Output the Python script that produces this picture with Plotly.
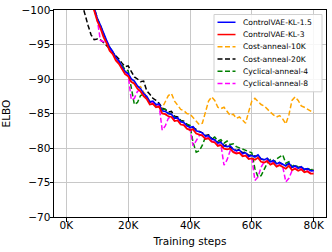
import plotly.graph_objects as go

steps_k = list(range(5, 81))

kl3 = [-106.0, -104.4, -102.8, -101.2, -99.6, -98.4, -97.4, -96.1, -95.2, -94.1,
       -93.6, -92.7, -92.2, -91.4, -90.7, -90.4, -89.6, -89.3, -88.6, -88.2,
       -87.5, -87.1, -86.3, -86.4, -85.9, -86.0, -85.0, -84.9, -84.6, -84.5,
       -83.9, -84.0, -83.4, -83.3, -82.8, -82.6, -82.7, -82.1, -81.9, -81.8,
       -81.3, -81.4, -80.9, -80.8, -80.3, -80.4, -79.9, -79.8, -79.9, -79.4,
       -79.2, -79.3, -78.8, -78.9, -78.4, -78.5, -78.3, -78.6, -78.0, -77.9,
       -78.1, -77.6, -77.8, -77.3, -77.5, -77.2, -77.0, -77.4, -76.8, -77.0,
       -76.7, -76.9, -76.5, -76.6, -76.3, -76.3]

kl15 = [-106.4, -104.8, -103.2, -101.6, -100.0, -98.8, -97.8, -96.6, -95.6, -94.6,
        -94.0, -93.1, -92.6, -91.8, -91.1, -90.8, -90.0, -89.7, -89.0, -88.6,
        -87.9, -87.5, -86.7, -86.8, -86.3, -86.4, -85.4, -85.3, -85.0, -84.9,
        -84.3, -84.4, -83.8, -83.7, -83.2, -83.0, -83.1, -82.5, -82.3, -82.2,
        -81.7, -81.8, -81.3, -81.2, -80.7, -80.8, -80.3, -80.2, -80.3, -79.8,
        -79.6, -79.7, -79.2, -79.3, -78.8, -78.9, -78.7, -79.0, -78.4, -78.3,
        -78.5, -78.0, -78.2, -77.7, -77.9, -77.6, -77.4, -77.8, -77.2, -77.4,
        -77.1, -77.3, -76.9, -77.0, -76.7, -76.7]

cost10 = [-106.3, -104.6, -103.2, -101.6, -100.0, -98.6, -97.6, -96.4, -95.4, -94.5,
          -93.9, -93.1, -92.5, -91.8, -91.1, -90.7, -89.8, -89.4, -88.8, -88.9,
          -88.1, -87.4, -86.8, -86.5, -86.2, -85.9, -85.8, -86.6, -87.6, -87.9,
          -86.8, -86.2, -85.6, -85.4, -85.0, -84.9, -84.4, -84.0, -83.4, -83.6,
          -85.2, -86.8, -87.4, -86.9, -85.9, -85.7, -85.9, -85.3, -84.7, -84.9,
          -84.3, -84.5, -84.0, -83.6, -85.3, -86.8, -87.2, -86.8, -86.3, -86.1,
          -85.6, -85.2, -84.8, -84.5, -84.7, -84.2, -83.5, -84.8, -86.9, -87.4,
          -86.9, -86.1, -85.9, -85.6, -85.3, -85.1]

cost20 = [-101.0, -99.3, -97.8, -96.4, -95.7, -95.8, -95.7, -95.3, -94.9, -94.4,
          -93.8, -93.4, -92.9, -92.3, -91.8, -91.9, -91.0, -90.3, -90.0, -89.6,
          -89.7, -88.3, -87.8, -87.2, -86.9, -86.5, -85.8, -85.6, -85.2, -85.3,
          -84.6, -84.5, -84.0, -83.9, -83.4, -83.2, -83.0, -82.7, -82.4, -82.2,
          -81.8, -81.9, -81.4, -81.2, -80.8, -80.9, -80.3, -80.5, -80.1, -79.9,
          -79.6, -79.8, -79.3, -79.4, -78.9, -79.0, -78.8, -78.9, -78.4, -78.3,
          -78.5, -78.0, -78.2, -77.8, -77.9, -77.6, -77.5, -77.7, -77.2, -77.4,
          -77.1, -77.2, -76.9, -77.0, -76.7, -76.8]

cyc4 = [-106.0, -104.8, -103.5, -101.8, -100.2, -98.8, -97.8, -96.6, -95.4, -94.6,
        -93.8, -93.2, -92.6, -91.9, -91.4, -91.2, -89.0, -86.3, -86.6, -87.6,
        -87.8, -87.3, -86.6, -86.6, -86.1, -86.0, -85.6, -85.6, -85.0, -84.9,
        -84.5, -84.3, -84.0, -83.6, -83.5, -83.3, -80.8, -79.4, -79.6, -80.4,
        -81.6, -81.8, -81.3, -81.6, -81.0, -81.2, -80.7, -81.0, -80.5, -80.6,
        -80.2, -80.0, -79.9, -79.6, -79.4, -79.3, -77.0, -75.8, -76.0, -76.8,
        -77.8, -78.3, -77.8, -78.4, -78.7, -79.0, -77.8, -78.0, -77.3, -77.6,
        -77.2, -77.3, -76.8, -77.1, -76.8, -77.0]

cyc8 = [-106.2, -104.6, -103.0, -101.5, -99.9, -98.6, -95.6, -95.4, -95.6, -94.5,
        -93.8, -93.0, -92.4, -91.6, -91.0, -90.6, -87.0, -87.2, -88.2, -88.4,
        -87.8, -87.3, -86.5, -86.6, -86.1, -86.2, -82.6, -83.2, -84.3, -84.6,
        -84.0, -84.1, -83.5, -83.4, -82.9, -82.8, -80.3, -81.0, -81.8, -81.9,
        -81.4, -81.5, -81.0, -80.9, -80.4, -80.5, -77.5, -78.3, -79.6, -79.5,
        -79.3, -79.4, -78.9, -79.0, -78.5, -78.6, -75.3, -75.8, -77.2, -78.0,
        -78.2, -77.7, -77.9, -77.4, -77.6, -77.3, -75.1, -75.6, -76.7, -77.1,
        -76.8, -77.0, -76.6, -76.7, -76.4, -76.6]

names = ["ControlVAE-KL-1.5", "ControlVAE-KL-3", "Cost-anneal-10K",
         "Cost-anneal-20K", "Cyclical-anneal-4", "Cyclical-anneal-8"]
series = [kl15, kl3, cost10, cost20, cyc4, cyc8]
colors = ["#0000ff", "#ff0000", "#ffa500", "#000000", "#008000", "#ff00ff"]
dashes = ["solid", "solid", "5px,2.5px", "5px,2.5px", "5px,2.5px", "5px,2.5px"]
widths = [1.6, 1.8, 1.5, 1.5, 1.5, 1.5]
draw_order = [2, 3, 4, 5, 0, 1]

x_tickvals = [0, 20, 40, 60, 80]
x_ticktext = ["0K", "20K", "40K", "60K", "80K"]
y_tickvals = [-100, -95, -90, -85, -80, -75, -70]

fig = go.Figure()
for i in draw_order:
    fig.add_trace(go.Scatter(
        x=steps_k, y=series[i], mode="lines", name=names[i],
        line=dict(color=colors[i], width=widths[i], dash=dashes[i]),
        showlegend=False))

# manual compact legend (matplotlib style)
L, R, T, B = 54, 326, 9.5, 217.0
def px(xp):
    return (xp - L) / (R - L)
def py(yp):
    return 1 - (yp - T) / (B - T)

shapes = [dict(type="rect", xref="paper", yref="paper",
               x0=px(214), x1=px(322), y0=py(91.5), y1=py(14),
               fillcolor="rgba(255,255,255,0.85)",
               line=dict(color="#d0d0d0", width=1), layer="above")]
annotations = []
row_y = [21.8, 34.1, 46.4, 58.7, 71.0, 83.3]
for i, nm in enumerate(names):
    shapes.append(dict(type="line", xref="paper", yref="paper",
                       x0=px(217.5), x1=px(235.5), y0=py(row_y[i]), y1=py(row_y[i]),
                       line=dict(color=colors[i], width=1.5, dash=dashes[i]),
                       layer="above"))
    annotations.append(dict(xref="paper", yref="paper", x=px(241), y=py(row_y[i]),
                            text=nm, showarrow=False, xanchor="left", yanchor="middle",
                            font=dict(family="DejaVu Sans", size=7.6, color="#000000")))

fig.update_layout(
    width=332, height=252,
    margin=dict(l=L, r=332 - R, t=T, b=252 - B),
    paper_bgcolor="white", plot_bgcolor="white",
    font=dict(family="DejaVu Sans", size=10.5, color="#000000"),
    shapes=shapes, annotations=annotations,
    xaxis=dict(range=[-4, 84], tickvals=x_tickvals, ticktext=x_ticktext,
               showgrid=True, gridcolor="#c8c8c8", gridwidth=1,
               showline=True, linecolor="#000000", linewidth=1, mirror=True,
               ticks="outside", ticklen=3.5, tickcolor="#000000", zeroline=False,
               automargin=False, ticklabelstandoff=-5,
               title=dict(text="Training steps", font=dict(size=10.5), standoff=7)),
    yaxis=dict(range=[-70, -100], tickvals=y_tickvals,
               showgrid=True, gridcolor="#c8c8c8", gridwidth=1,
               showline=True, linecolor="#000000", linewidth=1, mirror=True,
               ticks="outside", ticklen=3.5, tickcolor="#000000", zeroline=False,
               automargin=False, ticklabelstandoff=-3,
               title=dict(text="ELBO", font=dict(size=10.5), standoff=8)),
)

fig.write_html("out.html", config={"displayModeBar": False},
               post_script="document.body.style.margin='0';document.body.style.overflow='hidden';")
